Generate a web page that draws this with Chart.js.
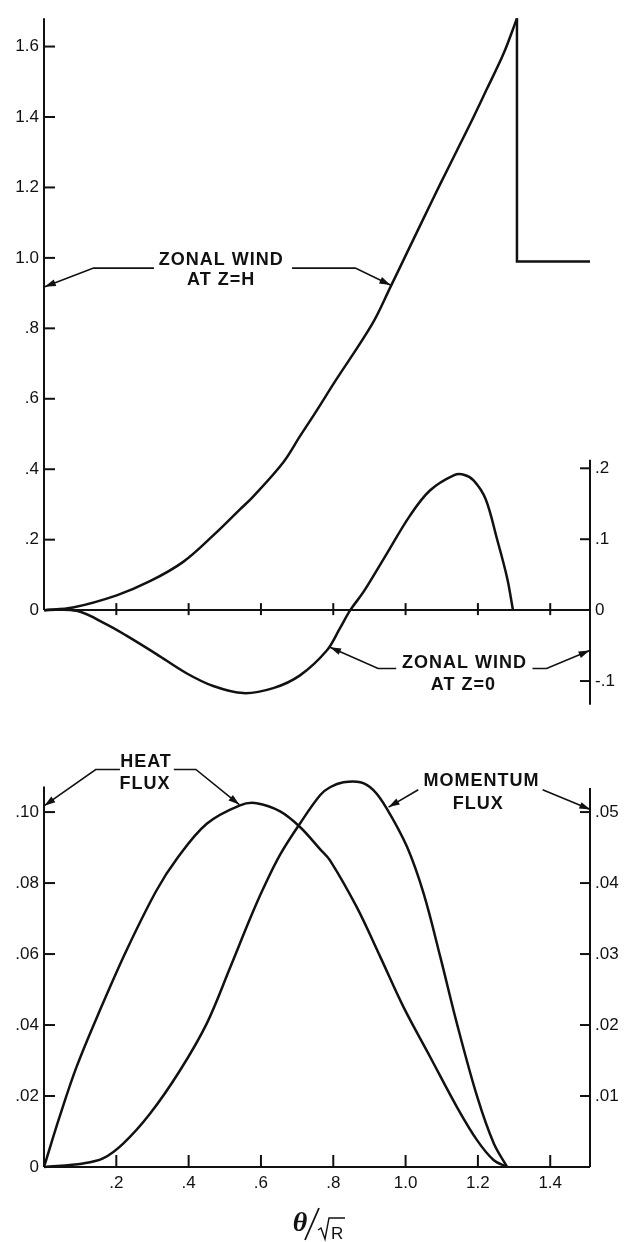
<!DOCTYPE html>
<html>
<head>
<meta charset="utf-8">
<script src="https://cdn.jsdelivr.net/npm/chart.js@4.4.1/dist/chart.umd.min.js"></script>
<style>
  html, body { margin: 0; padding: 0; background: #fff; }
  #wrap { position: relative; width: 624px; height: 1242px; }
  #windChart { position: absolute; left: 0; top: 0; }
  #fluxChart { position: absolute; left: 0; top: 720px; }
</style>
</head>
<body>
<div id="wrap">
  <canvas id="windChart" width="624" height="720"></canvas>
  <canvas id="fluxChart" width="624" height="522"></canvas>
</div>
<script>
// latitude, theta / sqrt(R)
const xTicks = [0.2, 0.4, 0.6, 0.8, 1.0, 1.2, 1.4];
const xTickLabels = ['.2', '.4', '.6', '.8', '1.0', '1.2', '1.4'];

// zonal wind at z = H (left scale)
const windHx = [0, 0.080, 0.201, 0.293, 0.385, 0.468, 0.542, 0.579, 0.662, 0.708, 0.755, 0.801, 0.907, 0.958, 1.004, 1.050, 1.096, 1.142, 1.188, 1.225, 1.271, 1.308];
const windHy = [0, 0.0075, 0.042, 0.082, 0.137, 0.212, 0.286, 0.323, 0.420, 0.494, 0.568, 0.643, 0.811, 0.917, 1.015, 1.113, 1.210, 1.305, 1.400, 1.480, 1.580, 1.680];
// drop back to the outer value beyond the jet
const windHOuterX = [1.308, 1.308, 1.51];
const windHOuterY = [1.680, 0.99, 0.99];

// zonal wind at z = 0 (right scale)
const wind0x = [0, 0.090, 0.173, 0.228, 0.311, 0.394, 0.468, 0.551, 0.634, 0.708, 0.782, 0.819, 0.847, 0.884, 0.939, 1.013, 1.068, 1.133, 1.161, 1.188, 1.221, 1.253, 1.281, 1.297];
const wind0y = [0, -0.001, -0.020, -0.036, -0.062, -0.089, -0.107, -0.117, -0.110, -0.092, -0.057, -0.025, 0, 0.026, 0.072, 0.134, 0.169, 0.190, 0.191, 0.183, 0.157, 0.100, 0.045, 0];

const windLeftTicks = [0, 0.2, 0.4, 0.6, 0.8, 1.0, 1.2, 1.4, 1.6];
const windLeftLabels = ['0', '.2', '.4', '.6', '.8', '1.0', '1.2', '1.4', '1.6'];
const windRightTicks = [-0.1, 0, 0.1, 0.2];
const windRightLabels = ['-.1', '0', '.1', '.2'];

// heat flux (left scale) and momentum flux (right scale)
const heatX = [0, 0.043, 0.090, 0.154, 0.228, 0.311, 0.367, 0.450, 0.542, 0.588, 0.653, 0.708, 0.764, 0.791, 0.865, 0.930, 0.994, 1.068, 1.142, 1.198, 1.244, 1.281];
const heatY = [0, 0.0141, 0.0282, 0.0440, 0.0610, 0.0779, 0.0868, 0.0967, 0.1019, 0.1025, 0.1002, 0.0958, 0.0895, 0.0864, 0.0732, 0.0592, 0.0451, 0.0310, 0.0169, 0.0075, 0.0019, 0];
const momX = [0, 0.108, 0.163, 0.219, 0.293, 0.376, 0.450, 0.514, 0.570, 0.607, 0.653, 0.708, 0.764, 0.791, 0.828, 0.875, 0.911, 0.948, 1.004, 1.050, 1.096, 1.142, 1.198, 1.244, 1.281];
const momY = [0, 0.0005, 0.0012, 0.0033, 0.0075, 0.0136, 0.0202, 0.0280, 0.0350, 0.0393, 0.0440, 0.0484, 0.0524, 0.0535, 0.0542, 0.0542, 0.0531, 0.0505, 0.0451, 0.0385, 0.0296, 0.0202, 0.0099, 0.0033, 0];

const heatTicks = [0, 0.02, 0.04, 0.06, 0.08, 0.10];
const heatLabels = ['0', '.02', '.04', '.06', '.08', '.10'];
const momTicks = [0.01, 0.02, 0.03, 0.04, 0.05];
const momLabels = ['.01', '.02', '.03', '.04', '.05'];

const INK = '#111';
const FONT = '"Liberation Sans", Arial, sans-serif';

function pts(xs, ys) {
  return xs.map((x, i) => ({ x: x, y: ys[i] }));
}

function curve(xs, ys, axis, tension) {
  return {
    data: pts(xs, ys),
    yAxisID: axis,
    borderColor: INK,
    borderWidth: 2.5,
    pointRadius: 0,
    fill: false,
    clip: false,
    tension: tension
  };
}

function yScale(pos, min, max, values, labels, width) {
  return {
    type: 'linear',
    position: pos,
    min: min,
    max: max,
    grid: { display: false, drawTicks: false },
    border: { display: false },
    afterBuildTicks: s => { s.ticks = values.map(v => ({ value: v })); },
    afterFit: s => { s.width = width; },
    ticks: {
      padding: 5,
      color: INK,
      font: { family: FONT, size: 17 },
      callback: (v, i) => labels[i]
    }
  };
}

function line(ctx, x1, y1, x2, y2) {
  ctx.beginPath();
  ctx.moveTo(x1, y1);
  ctx.lineTo(x2, y2);
  ctx.stroke();
}

// leader line with a filled arrowhead at its last point
function leader(ctx, path) {
  ctx.beginPath();
  path.forEach((p, i) => (i ? ctx.lineTo(p[0], p[1]) : ctx.moveTo(p[0], p[1])));
  ctx.stroke();
  const [x1, y1] = path[path.length - 2];
  const [x2, y2] = path[path.length - 1];
  const a = Math.atan2(y2 - y1, x2 - x1);
  const c = Math.cos(a), s = Math.sin(a);
  ctx.beginPath();
  ctx.moveTo(x2, y2);
  ctx.lineTo(x2 - 11 * c + 3.5 * s, y2 - 11 * s - 3.5 * c);
  ctx.lineTo(x2 - 11 * c - 3.5 * s, y2 - 11 * s + 3.5 * c);
  ctx.closePath();
  ctx.fill();
}

function drawNote(chart, note) {
  const ctx = chart.ctx;
  const xs = chart.scales.x, ys = chart.scales[note.axis];
  const px = v => xs.getPixelForValue(v);
  const py = v => ys.getPixelForValue(v);
  ctx.save();
  ctx.fillStyle = INK;
  ctx.strokeStyle = INK;
  ctx.font = 'bold 18px ' + FONT;
  ctx.letterSpacing = '1px';
  ctx.textAlign = 'center';
  ctx.textBaseline = 'middle';
  note.text.forEach(t => ctx.fillText(t[0], px(t[1]), py(t[2])));
  ctx.lineWidth = 1.6;
  note.leaders.forEach(path => leader(ctx, path.map(p => [px(p[0]), py(p[1])])));
  ctx.restore();
}

const windNotes = [
  {
    axis: 'yL',
    text: [['ZONAL WIND', 0.49, 0.993], ['AT Z=H', 0.49, 0.936]],
    leaders: [
      [[0.304, 0.971], [0.137, 0.971], [0.002, 0.918]],
      [[0.686, 0.971], [0.861, 0.971], [0.958, 0.923]]
    ]
  },
  {
    axis: 'yR',
    text: [['ZONAL WIND', 1.163, -0.075], ['AT Z=0', 1.160, -0.105]],
    leaders: [
      [[0.974, -0.0823], [0.924, -0.0823], [0.791, -0.0523]],
      [[1.351, -0.0823], [1.39, -0.0823], [1.509, -0.057]]
    ]
  }
];

const fluxNotes = [
  {
    axis: 'yL',
    text: [['HEAT', 0.282, 0.1141], ['FLUX', 0.279, 0.1078]],
    leaders: [
      [[0.21, 0.112], [0.143, 0.112], [0.001, 0.1018]],
      [[0.359, 0.112], [0.42, 0.112], [0.54, 0.1021]]
    ]
  },
  {
    axis: 'yL',
    text: [['MOMENTUM', 1.21, 0.1087], ['FLUX', 1.201, 0.1024]],
    leaders: [
      [[1.035, 0.1063], [0.953, 0.1014]],
      [[1.379, 0.1063], [1.511, 0.1007]]
    ]
  }
];

// upper panel axes: x axis through zero with crossing ticks, y axes with inward ticks
const windAxes = {
  id: 'windAxes',
  afterDraw(chart) {
    const ctx = chart.ctx;
    const x = chart.scales.x, yl = chart.scales.yL, yr = chart.scales.yR;
    const x0 = x.getPixelForValue(0), x1 = x.getPixelForValue(x.max);
    const y0 = yl.getPixelForValue(0);
    ctx.save();
    ctx.strokeStyle = INK;
    ctx.lineWidth = 2;
    line(ctx, x0, y0, x1, y0);
    line(ctx, x0, y0, x0, yl.getPixelForValue(1.68));
    line(ctx, x1, yr.getPixelForValue(0.212), x1, yr.getPixelForValue(yr.min));
    xTicks.forEach(v => {
      const p = x.getPixelForValue(v);
      line(ctx, p, y0 - 7, p, y0 + 5);
    });
    windLeftTicks.forEach(v => {
      if (v === 0) return;
      const p = yl.getPixelForValue(v);
      line(ctx, x0, p, x0 + 11, p);
    });
    windRightTicks.forEach(v => {
      if (v === 0) return;
      const p = yr.getPixelForValue(v);
      line(ctx, x1 - 10, p, x1, p);
    });
    ctx.restore();
    windNotes.forEach(n => drawNote(chart, n));
  }
};

// lower panel axes, annotations and the x axis title
const fluxAxes = {
  id: 'fluxAxes',
  afterDraw(chart) {
    const ctx = chart.ctx;
    const x = chart.scales.x, yl = chart.scales.yL, yr = chart.scales.yR;
    const x0 = x.getPixelForValue(0), x1 = x.getPixelForValue(x.max);
    const y0 = yl.getPixelForValue(0);
    ctx.save();
    ctx.strokeStyle = INK;
    ctx.fillStyle = INK;
    ctx.lineWidth = 2;
    line(ctx, x0, y0, x1, y0);
    line(ctx, x0, y0, x0, yl.getPixelForValue(0.1072));
    line(ctx, x1, y0, x1, yr.getPixelForValue(0.0534));
    xTicks.forEach(v => {
      const p = x.getPixelForValue(v);
      line(ctx, p, y0, p, y0 - 12);
    });
    heatTicks.forEach(v => {
      if (v === 0) return;
      const p = yl.getPixelForValue(v);
      line(ctx, x0, p, x0 + 11, p);
    });
    momTicks.forEach(v => {
      const p = yr.getPixelForValue(v);
      line(ctx, x1 - 10, p, x1, p);
    });

    // theta / sqrt(R)
    const cx = (chart.chartArea.left + chart.chartArea.right) / 2;
    const by = chart.height - 11;
    ctx.font = 'italic bold 28px "Liberation Serif", serif';
    ctx.textAlign = 'center';
    ctx.textBaseline = 'alphabetic';
    ctx.fillText('\u03B8', cx - 17, by);
    ctx.lineWidth = 1.8;
    line(ctx, cx - 12, by + 9, cx + 2, by - 23);
    ctx.lineWidth = 1.4;
    ctx.beginPath();
    ctx.moveTo(cx + 1, by - 1);
    ctx.lineTo(cx + 4, by - 3);
    ctx.lineTo(cx + 8, by + 8);
    ctx.lineTo(cx + 12, by - 13);
    ctx.lineTo(cx + 28, by - 13);
    ctx.stroke();
    ctx.font = '17px ' + FONT;
    ctx.textAlign = 'left';
    ctx.fillText('R', cx + 14, by + 8);
    ctx.restore();
    fluxNotes.forEach(n => drawNote(chart, n));
  }
};

new Chart(document.getElementById('windChart'), {
  type: 'line',
  data: {
    datasets: [
      curve(windHx, windHy, 'yL', 0.35),
      curve(windHOuterX, windHOuterY, 'yL', 0),
      curve(wind0x, wind0y, 'yR', 0.35)
    ]
  },
  options: {
    responsive: false,
    animation: false,
    layout: { padding: { top: 5, bottom: 12, left: 0, right: 0 } },
    plugins: { legend: { display: false }, tooltip: { enabled: false } },
    scales: {
      x: { type: 'linear', min: 0, max: 1.51, display: false },
      yL: yScale('left', -0.2688, 1.689, windLeftTicks, windLeftLabels, 44),
      yR: yScale('right', -0.1335, 0.8389, windRightTicks, windRightLabels, 34)
    }
  },
  plugins: [windAxes]
});

new Chart(document.getElementById('fluxChart'), {
  type: 'line',
  data: {
    datasets: [
      curve(heatX, heatY, 'yL', 0.35),
      curve(momX, momY, 'yR', 0.35)
    ]
  },
  options: {
    responsive: false,
    animation: false,
    layout: { padding: { top: 58, bottom: 0, left: 0, right: 0 } },
    plugins: { legend: { display: false }, tooltip: { enabled: false } },
    scales: {
      x: {
        type: 'linear',
        min: 0,
        max: 1.51,
        grid: { display: false, drawTicks: false },
        border: { display: false },
        afterBuildTicks: s => { s.ticks = xTicks.map(v => ({ value: v })); },
        afterFit: s => { s.height = 75; },
        ticks: {
          padding: 6,
          autoSkip: false,
          maxRotation: 0,
          color: INK,
          font: { family: FONT, size: 17 },
          callback: (v, i) => xTickLabels[i]
        }
      },
      yL: yScale('left', 0, 0.1096, heatTicks, heatLabels, 44),
      yR: yScale('right', 0, 0.0548, momTicks, momLabels, 34)
    }
  },
  plugins: [fluxAxes]
});
</script>
</body>
</html>
